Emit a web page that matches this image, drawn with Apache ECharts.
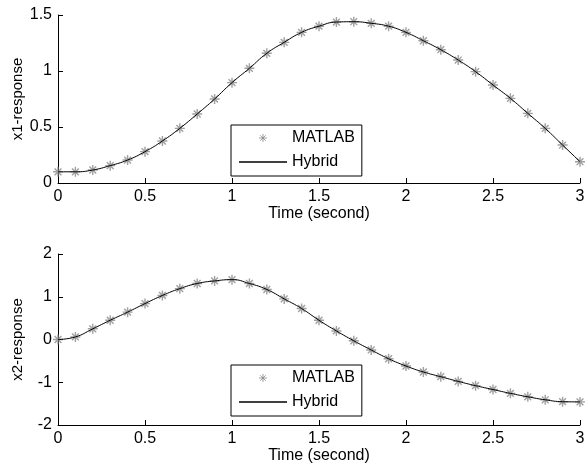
<!DOCTYPE html>
<html>
<head>
<meta charset="utf-8">
<script src="https://cdn.jsdelivr.net/npm/echarts@6/dist/echarts.min.js"></script>
<style>
  html, body { margin: 0; padding: 0; background: #fff; }
  #main { width: 585px; height: 470px; }
</style>
</head>
<body>
<div id="main"></div>
<script>
// 时间轴 (秒)
var time = [0, 0.1, 0.2, 0.3, 0.4, 0.5, 0.6, 0.7, 0.8, 0.9, 1.0,
    1.1, 1.2, 1.3, 1.4, 1.5, 1.6, 1.7, 1.8, 1.9, 2.0,
    2.1, 2.2, 2.3, 2.4, 2.5, 2.6, 2.7, 2.8, 2.9, 3.0];

// x1 响应
var x1 = [0.10, 0.10, 0.116, 0.155, 0.205, 0.28, 0.375, 0.488, 0.616, 0.75, 0.896,
    1.024, 1.158, 1.256, 1.345, 1.40, 1.437, 1.440, 1.426, 1.40, 1.345,
    1.27, 1.19, 1.098, 0.994, 0.875, 0.756, 0.622, 0.488, 0.339, 0.19];

// x2 响应
var x2 = [0, 0.06, 0.25, 0.45, 0.64, 0.84, 1.03, 1.19, 1.31, 1.37, 1.40,
    1.31, 1.17, 0.95, 0.725, 0.45, 0.2, -0.03, -0.245, -0.45, -0.62,
    -0.76, -0.87, -0.98, -1.08, -1.17, -1.26, -1.34, -1.41, -1.455, -1.46];

var xTicks = [0, 0.5, 1, 1.5, 2, 2.5, 3];
var names = ['MATLAB', 'Hybrid'];

// 星号标记
var star = 'path://M5,0L5,10M0,5L10,5M1.6,1.6L8.4,8.4M1.6,8.4L8.4,1.6';
// 图例里的实线
var bar = 'path://M0,0L50,0L50,1.5L0,1.5Z';
var font = '"Liberation Sans", Arial, sans-serif';

function pairs(ys) {
    return time.map(function(t, i) { return [t, ys[i]]; });
}

function xAxisOf(index) {
    return {
        type: 'value', gridIndex: index, min: xTicks[0], max: xTicks[xTicks.length - 1], interval: 0.5,
        name: 'Time (second)', nameLocation: 'middle', nameGap: 23, nameMoveOverlap: false,
        nameTextStyle: { color: '#000', fontSize: 16, fontFamily: font },
        axisLine: { onZero: false, lineStyle: { color: '#000', width: 1 } },
        axisTick: { inside: true, length: 5, lineStyle: { color: '#000' } },
        axisLabel: { color: '#000', fontSize: 16, fontFamily: font, margin: 6 },
        splitLine: { show: false }
    };
}

function yAxisOf(index, name, min, max, step) {
    return {
        type: 'value', gridIndex: index, min: min, max: max, interval: step,
        name: name, nameLocation: 'middle', nameGap: 33, nameRotate: 90, nameMoveOverlap: false,
        nameTextStyle: { color: '#000', fontSize: 15, fontFamily: font },
        axisLine: { show: true, onZero: false, lineStyle: { color: '#000', width: 1 } },
        axisTick: { show: true, inside: true, length: 5, lineStyle: { color: '#000' } },
        axisLabel: { color: '#000', fontSize: 16, fontFamily: font, margin: 6 },
        splitLine: { show: false }
    };
}

function legendAt(top) {
    return {
        left: 231, top: top, orient: 'vertical',
        borderColor: '#000', borderWidth: 1, borderRadius: 0,
        padding: [5, 7, 6, 8],
        itemWidth: 48, itemHeight: 8, itemGap: 8,
        textStyle: { color: '#000', fontSize: 16, fontFamily: font },
        data: [
            { name: names[0], icon: star, itemStyle: { color: '#888', borderColor: '#888', borderWidth: 1 } },
            { name: names[1], icon: bar, itemStyle: { color: '#000', borderWidth: 0 } }
        ]
    };
}

function seriesOf(index, ys) {
    return [{
        name: names[0], type: 'scatter', xAxisIndex: index, yAxisIndex: index,
        data: pairs(ys), symbol: star, symbolSize: 10,
        itemStyle: { color: '#888', borderColor: '#888', borderWidth: 1.4 }
    }, {
        name: names[1], type: 'line', xAxisIndex: index, yAxisIndex: index,
        data: pairs(ys), symbol: 'none', smooth: true,
        lineStyle: { color: '#000', width: 1 },
        itemStyle: { color: '#000' }
    }];
}

var option = {
    animation: false,
    backgroundColor: '#fff',
    grid: [
        { left: 58, right: 5, top: 15, height: 168, outerBoundsMode: 'none', containLabel: false },
        { left: 58, right: 5, top: 254, height: 171, outerBoundsMode: 'none', containLabel: false }
    ],
    xAxis: [xAxisOf(0), xAxisOf(1)],
    yAxis: [yAxisOf(0, 'x1-response', 0, 1.5, 0.5), yAxisOf(1, 'x2-response', -2, 2, 1)],
    legend: [legendAt(125), legendAt(365)],
    series: seriesOf(0, x1).concat(seriesOf(1, x2))
};

var myChart = echarts.init(document.getElementById('main'));
myChart.setOption(option);
</script>
</body>
</html>
